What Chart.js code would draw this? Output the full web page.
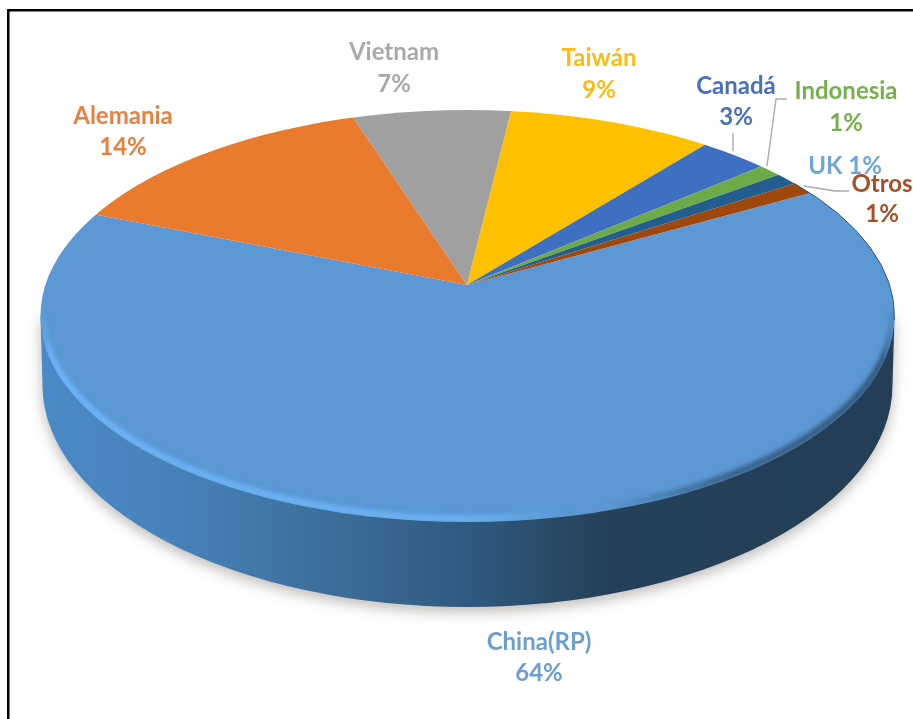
<!DOCTYPE html>
<html>
<head>
<meta charset="utf-8">
<title>Participación por país</title>
<script src="https://cdn.jsdelivr.net/npm/chart.js@4"></script>
<style>
  html, body { margin: 0; padding: 0; background: #fff; }
  canvas { display: block; }
</style>
</head>
<body>
<canvas id="myChart" width="913" height="719"></canvas>
<script>
const categories = ['China(RP)', 'Alemania', 'Vietnam', 'Taiwán', 'Canadá', 'Indonesia', 'UK', 'Otros'];
const shares = [64, 14, 7, 9, 3, 1, 1, 1];
const sliceColors = ['#5b98d5', '#ea7a2d', '#a0a0a0', '#ffc000', '#3f6fc0', '#6cab47', '#235d90', '#9e480e'];
const labelColors = ['#6b9fd0', '#e8803f', '#a9a9a9', '#f9bc15', '#4a70bb', '#76b04f', '#6ea6dc', '#a5502a'];

// where each country's text sits: centre x, then y of name and of percentage
const labelSpots = [
    [539, 642, 673], [123, 116, 147], [394, 52, 84], [599, 58, 90],
    [736, 86, 117], [846, 91, 123], [845, 166, null], [882, 184, 214]
];
const leaderLines = [
    [[733, 133], [733, 151]],
    [[787, 99], [776, 99], [767, 166]],
    [[804, 186], [835, 191], [849, 191]]
];

// tilted disc: top face, bottom face, and the hub of the slices
const topFace = { x: 467.5, y: 316, rx: 427, ry: 206 };
const bottomFace = { x: 467.5, y: 385, rx: 425, ry: 222 };
const hub = { x: 467, y: 285, rx: 422, squash: 0.484 };

function wallPath(ctx) {
    ctx.beginPath();
    ctx.moveTo(topFace.x - topFace.rx, topFace.y);
    ctx.lineTo(bottomFace.x - bottomFace.rx, bottomFace.y);
    ctx.ellipse(bottomFace.x, bottomFace.y, bottomFace.rx, bottomFace.ry, 0, Math.PI, 0, true);
    ctx.lineTo(topFace.x + topFace.rx, topFace.y);
    ctx.closePath();
}

const disc3d = {
    id: 'disc3d',
    beforeDraw(chart) {
        const ctx = chart.ctx;
        ctx.save();
        ctx.fillStyle = '#000';
        ctx.fillRect(7, 9, 906, 2.5);
        ctx.fillRect(7, 9, 2.5, 710);
        ctx.restore();
    },
    beforeDatasetsDraw(chart) {
        const ctx = chart.ctx;
        const arc = chart.getDatasetMeta(0).data[0];

        const shade = ctx.createLinearGradient(40, 0, 895, 0);
        shade.addColorStop(0, '#4b8ac8');
        shade.addColorStop(0.19, '#467fb6');
        shade.addColorStop(0.33, '#3d6e9b');
        shade.addColorStop(0.5, '#2f5a80');
        shade.addColorStop(0.66, '#254159');
        shade.addColorStop(1, '#233e55');

        ctx.save();
        ctx.shadowColor = 'rgba(70, 60, 50, 0.35)';
        ctx.shadowBlur = 14;
        ctx.shadowOffsetY = 5;
        ctx.fillStyle = shade;
        wallPath(ctx);
        ctx.fill();
        ctx.restore();

        // slices are oversized circles squashed about the hub, trimmed by the top face
        const spread = hub.rx * 1.45 / arc.outerRadius;
        ctx.save();
        ctx.beginPath();
        ctx.ellipse(topFace.x, topFace.y, topFace.rx, topFace.ry, 0, 0, Math.PI * 2);
        ctx.clip();
        ctx.translate(hub.x, hub.y);
        ctx.scale(spread, spread * hub.squash);
        ctx.translate(-arc.x, -arc.y);
    },
    afterDatasetsDraw(chart) {
        const ctx = chart.ctx;
        ctx.restore();

        // bevel along the near edge of the top face
        const bevel = ctx.createLinearGradient(40, 0, 895, 0);
        bevel.addColorStop(0, 'rgba(110, 182, 245, 0)');
        bevel.addColorStop(0.012, 'rgba(110, 182, 245, 0.95)');
        bevel.addColorStop(0.5, 'rgba(110, 182, 245, 0.85)');
        bevel.addColorStop(0.62, 'rgba(110, 182, 245, 0)');
        bevel.addColorStop(0.66, 'rgba(35, 62, 85, 0)');
        bevel.addColorStop(0.8, 'rgba(35, 62, 85, 0.6)');
        bevel.addColorStop(0.985, 'rgba(35, 62, 85, 0.7)');
        bevel.addColorStop(1, 'rgba(35, 62, 85, 0)');

        ctx.save();
        ctx.beginPath();
        ctx.ellipse(topFace.x, topFace.y, topFace.rx, topFace.ry, 0, 0, Math.PI * 2);
        ctx.clip();
        ctx.filter = 'blur(2px)';
        ctx.strokeStyle = bevel;
        ctx.lineWidth = 7;
        ctx.beginPath();
        ctx.ellipse(topFace.x, topFace.y - 3, topFace.rx - 1, topFace.ry, 0, 0, Math.PI);
        ctx.stroke();
        ctx.restore();

        // thin dark lip on the far right
        ctx.save();
        ctx.strokeStyle = '#2c5578';
        ctx.lineWidth = 1;
        ctx.beginPath();
        ctx.ellipse(topFace.x, topFace.y, topFace.rx, topFace.ry, 0, -0.7, 0.02);
        ctx.stroke();
        ctx.restore();
    },
    afterDraw(chart) {
        const ctx = chart.ctx;
        ctx.save();

        ctx.strokeStyle = '#ababab';
        ctx.lineWidth = 1.4;
        leaderLines.forEach((line) => {
            ctx.beginPath();
            line.forEach((p, i) => {
                if (i === 0) ctx.moveTo(p[0], p[1]);
                else ctx.lineTo(p[0], p[1]);
            });
            ctx.stroke();
        });

        ctx.font = 'bold 24px Lato';
        ctx.textAlign = 'center';
        ctx.textBaseline = 'middle';
        categories.forEach((name, i) => {
            const spot = labelSpots[i];
            ctx.fillStyle = labelColors[i];
            if (spot[2] === null) {
                ctx.fillText(name + ' ' + shares[i] + '%', spot[0], spot[1]);
            } else {
                ctx.fillText(name, spot[0], spot[1]);
                ctx.fillText(shares[i] + '%', spot[0], spot[2]);
            }
        });
        ctx.restore();
    }
};

new Chart(document.getElementById('myChart'), {
    type: 'pie',
    data: {
        labels: categories,
        datasets: [{
            data: shares,
            backgroundColor: sliceColors,
            borderWidth: 0,
            clip: false
        }]
    },
    options: {
        responsive: false,
        animation: false,
        rotation: 61,
        plugins: {
            legend: { display: false },
            tooltip: { enabled: false }
        }
    },
    plugins: [disc3d]
});
</script>
</body>
</html>
